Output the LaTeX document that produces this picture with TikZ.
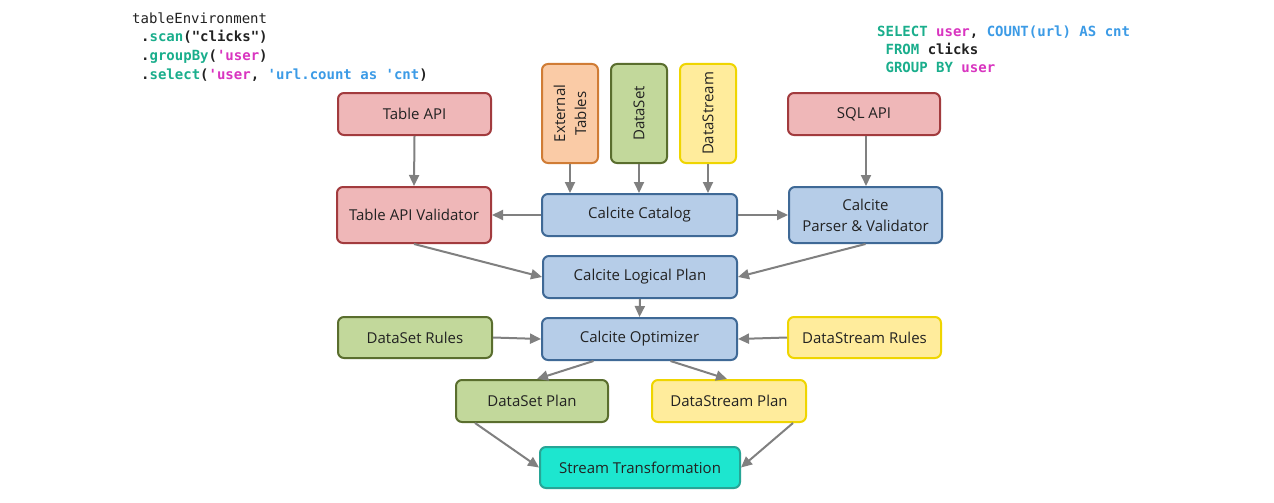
\documentclass[tikz,border=0pt]{standalone}
\usepackage{fontspec}
\setmainfont{Open Sans}
\setmonofont{DejaVu Sans Mono}
\usetikzlibrary{arrows.meta}
\definecolor{redfill}{HTML}{EFB7B8}
\definecolor{redline}{HTML}{A23B3E}
\definecolor{bluefill}{HTML}{B6CDE8}
\definecolor{blueline}{HTML}{3F6996}
\definecolor{greenfill}{HTML}{C2D89B}
\definecolor{greenline}{HTML}{5A6E2E}
\definecolor{yelfill}{HTML}{FFEC9C}
\definecolor{yelline}{HTML}{EFD500}
\definecolor{orfill}{HTML}{FACBA6}
\definecolor{orline}{HTML}{D07C35}
\definecolor{cyfill}{HTML}{1DE6CF}
\definecolor{cyline}{HTML}{27A596}
\definecolor{arrowgrey}{HTML}{808080}
\definecolor{cteal}{HTML}{1AAE8C}
\definecolor{cmag}{HTML}{D935C0}
\definecolor{cblue}{HTML}{3C9BE6}
\definecolor{ctext}{HTML}{222222}
\tikzset{
  box/.style={draw, line width=2pt, rounded corners=6pt, inner sep=0pt,
    font=\fontsize{15}{21}\selectfont, text=ctext, align=center},
  redbox/.style={box, fill=redfill, draw=redline},
  bluebox/.style={box, fill=bluefill, draw=blueline},
  greenbox/.style={box, fill=greenfill, draw=greenline},
  yelbox/.style={box, fill=yelfill, draw=yelline},
  orbox/.style={box, fill=orfill, draw=orline},
  cybox/.style={box, fill=cyfill, draw=cyline},
  arr/.style={draw=arrowgrey, line width=2pt, -{Triangle[length=11pt,width=10pt]}},
  code/.style={anchor=base west, inner sep=0pt, font=\ttfamily\fontsize{14}{17}\selectfont, text=ctext},
}
\begin{document}
\begin{tikzpicture}[x=1pt,y=-1pt]
\useasboundingbox[fill=white] (0,0) rectangle (1274,503);
% code snippets
\node[code] (c1) at (132,24) {tableEnvironment};
\node[code] (c2) at (141,42) {\bfseries .\textcolor{cteal}{scan}("clicks")};
\node[code] (c3) at (141,60) {\bfseries .\textcolor{cteal}{groupBy}(\textcolor{cmag}{'user})};
\node[code] (c4) at (141,79) {\bfseries .\textcolor{cteal}{select}(\textcolor{cmag}{'user}, \textcolor{cblue}{'url.count as 'cnt})};
\node[code] (s1) at (877,37) {\bfseries\textcolor{cteal}{SELECT} \textcolor{cmag}{user}, \textcolor{cblue}{COUNT(url) AS cnt}};
\node[code] (s2) at (885.4,55) {\bfseries\textcolor{cteal}{FROM} clicks};
\node[code] (s3) at (885.4,73) {\bfseries\textcolor{cteal}{GROUP BY} \textcolor{cmag}{user}};
% boxes
\node[redbox, minimum width=153pt, minimum height=42pt] (tapi) at (414.5,114) {Table API};
\node[redbox, minimum width=152pt, minimum height=42pt] (sql) at (864,114) {SQL API};
\node[orbox, rotate=90, minimum width=99pt, minimum height=56pt] (ext) at (570,113.5) {External\\Tables};
\node[greenbox, rotate=90, minimum width=99pt, minimum height=56pt] (ds) at (639,113.5) {DataSet};
\node[yelbox, rotate=90, minimum width=99pt, minimum height=56pt] (dstr) at (708,113.5) {DataStream};
\node[redbox, minimum width=154pt, minimum height=56pt] (tval) at (414,215) {Table API Validator};
\node[bluebox, minimum width=195pt, minimum height=42pt] (cat) at (639.5,215) {Calcite Catalog};
\node[bluebox, minimum width=153pt, minimum height=56pt] (pval) at (865.5,215) {Calcite\\Parser \& Validator};
\node[bluebox, minimum width=194pt, minimum height=42pt] (lp) at (640,277) {Calcite Logical Plan};
\node[greenbox, minimum width=154pt, minimum height=41pt] (dsr) at (415,337.5) {DataSet Rules};
\node[bluebox, minimum width=195pt, minimum height=42pt] (opt) at (639.5,339) {Calcite Optimizer};
\node[yelbox, minimum width=153pt, minimum height=41pt] (dstrr) at (864.5,337.5) {DataStream Rules};
\node[greenbox, minimum width=152pt, minimum height=42pt] (dsp) at (532,401) {DataSet Plan};
\node[yelbox, minimum width=154pt, minimum height=42pt] (dstrp) at (729,401) {DataStream Plan};
\node[cybox, minimum width=200pt, minimum height=41pt] (st) at (640,467.5) {Stream Transformation};
% arrows
\draw[arr] (tapi.south) -- (tval.north);
\draw[arr] ([xshift=2pt]sql.south) -- ([xshift=0.5pt]pval.north);
\draw[arr] (ext.west) -- (ext.west |- cat.north);
\draw[arr] (ds.west) -- (ds.west |- cat.north);
\draw[arr] (dstr.west) -- (dstr.west |- cat.north);
\draw[arr] (cat.west) -- (tval.east);
\draw[arr] (cat.east) -- (pval.west);
\draw[arr] (tval.south) -- (lp.west);
\draw[arr] (pval.south) -- (lp.east);
\draw[arr] (lp.south) -- (opt.north);
\draw[arr] (dsr.east) -- (opt.west);
\draw[arr] (dstrr.west) -- (opt.east);
\draw[arr] ([xshift=-46pt]opt.south) -- ([xshift=5pt]dsp.north);
\draw[arr] ([xshift=31pt]opt.south) -- ([xshift=-2pt]dstrp.north);
\draw[arr] ([xshift=-57pt]dsp.south) -- (st.west);
\draw[arr] ([xshift=64pt]dstrp.south) -- (st.east);
\end{tikzpicture}
\end{document}
